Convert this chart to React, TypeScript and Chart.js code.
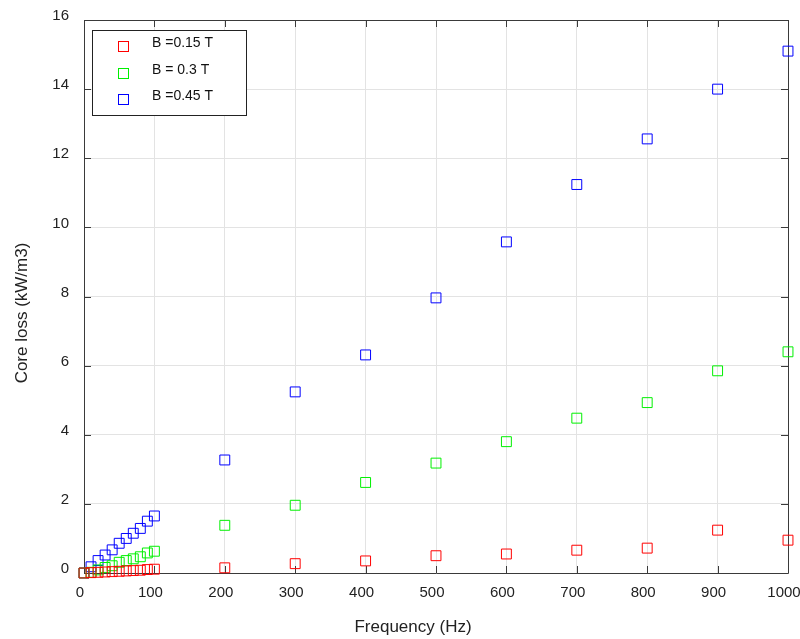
import React, { useEffect, useRef } from "react";
import { Chart, registerables } from "chart.js";

Chart.register(...registerables);

const frequencies = [0, 10, 20, 30, 40, 50, 60, 70, 80, 90, 100, 200, 300, 400, 500, 600, 700, 800, 900, 1000];
const loss015 = [0, 0.01, 0.02, 0.03, 0.04, 0.05, 0.06, 0.07, 0.08, 0.1, 0.11, 0.15, 0.27, 0.35, 0.5, 0.55, 0.66, 0.72, 1.24, 0.95];
const loss03 = [0, 0.02, 0.09, 0.16, 0.21, 0.31, 0.36, 0.41, 0.47, 0.58, 0.63, 1.38, 1.96, 2.62, 3.18, 3.8, 4.48, 4.93, 5.85, 6.4];
const loss045 = [0, 0.18, 0.36, 0.52, 0.67, 0.86, 1.0, 1.15, 1.29, 1.5, 1.65, 3.27, 5.24, 6.31, 7.96, 9.58, 11.24, 12.56, 14.0, 15.1];

const seriesLabels = ["B =0.15 T", "B = 0.3 T", "B =0.45 T"];
const seriesColors = ["#ff0000", "#00f000", "#0000ff"];
const xTitle = "Frequency (Hz)";
const yTitle = "Core loss (kW/m3)";

const FONT = "'Liberation Sans', Arial, Helvetica, sans-serif";

const framePlugin = {
  id: "matlabFrame",
  beforeDatasetsDraw(chart: any) {
    const { ctx, chartArea } = chart;
    const { left, right, top, bottom } = chartArea;
    const xs = chart.scales.x;
    const ys = chart.scales.y;
    ctx.save();
    ctx.strokeStyle = "#3a3a3a";
    ctx.lineWidth = 1;
    ctx.beginPath();
    ctx.rect(Math.round(left) + 0.5, Math.round(top) + 0.5, Math.round(right - left), Math.round(bottom - top));
    ctx.stroke();
    const tl = 7;
    ctx.beginPath();
    xs.ticks.forEach((t: any) => {
      const px = Math.round(xs.getPixelForValue(t.value)) + 0.5;
      ctx.moveTo(px, bottom);
      ctx.lineTo(px, bottom - tl);
      ctx.moveTo(px, top);
      ctx.lineTo(px, top + tl);
    });
    ys.ticks.forEach((t: any) => {
      const py = Math.round(ys.getPixelForValue(t.value)) + 0.5;
      ctx.moveTo(left, py);
      ctx.lineTo(left + tl, py);
      ctx.moveTo(right, py);
      ctx.lineTo(right - tl, py);
    });
    ctx.stroke();
    ctx.restore();
  },
  afterDraw(chart: any) {
    const { ctx } = chart;
    ctx.save();
    ctx.fillStyle = "#222";
    ctx.font = `17px ${FONT}`;
    ctx.textAlign = "center";
    ctx.textBaseline = "middle";
    ctx.fillText(xTitle, 413, 627);
    ctx.translate(22, 313);
    ctx.rotate(-Math.PI / 2);
    ctx.fillText(yTitle, 0, 0);
    ctx.restore();

    ctx.save();
    ctx.fillStyle = "#ffffff";
    ctx.fillRect(92, 30, 155, 86);
    ctx.strokeStyle = "#222";
    ctx.lineWidth = 1;
    ctx.strokeRect(92.5, 30.5, 154, 85);
    const rows = [45.7, 72.5, 99];
    ctx.font = `14px ${FONT}`;
    ctx.textAlign = "left";
    ctx.textBaseline = "middle";
    rows.forEach((ry, i) => {
      ctx.strokeStyle = seriesColors[i];
      ctx.strokeRect(Math.round(123 - 5) + 0.5, Math.round(ry - 5) + 0.5, 10, 10);
      ctx.fillStyle = "#111";
      ctx.fillText(seriesLabels[i], 152, ry - 2.5);
    });
    ctx.restore();
  },
};

export default function App() {
  const canvasRef = useRef<HTMLCanvasElement | null>(null);

  useEffect(() => {
    if (!canvasRef.current) return;
    const mk = (vals: number[]) => frequencies.map((f, i) => ({ x: f, y: vals[i] }));
    const allSeries = [loss015, loss03, loss045];
    const chart = new Chart(canvasRef.current, {
      type: "scatter",
      data: {
        datasets: allSeries.map((vals, i) => ({
          label: seriesLabels[i],
          data: mk(vals),
          pointStyle: "rect",
          pointRadius: 7,
          pointHoverRadius: 7,
          borderColor: seriesColors[i],
          backgroundColor: "rgba(0,0,0,0)",
          borderWidth: 1,
          clip: false,
        })),
      },
      options: {
        responsive: false,
        animation: false,
        events: [],
        layout: { padding: { top: 20, right: 12, left: 0, bottom: 0 } },
        plugins: {
          legend: { display: false },
          tooltip: { enabled: false },
          title: { display: false },
        },
        scales: {
          x: {
            type: "linear",
            min: 0,
            max: 1000,
            border: { display: false },
            grid: { color: "#e3e3e3", drawTicks: false, lineWidth: 1 },
            ticks: {
              stepSize: 100,
              padding: 11,
              labelOffset: -4,
              maxRotation: 0,
              color: "#222",
              font: { family: FONT, size: 15 },
              callback: (v: any) => String(v),
            },
            afterFit(scale: any) {
              scale.height = 66;
              scale.paddingLeft = 0;
              scale.paddingRight = 0;
            },
          },
          y: {
            type: "linear",
            min: 0,
            max: 16,
            border: { display: false },
            grid: { color: "#e3e3e3", drawTicks: false, lineWidth: 1 },
            ticks: {
              stepSize: 2,
              padding: 15,
              labelOffset: -4,
              color: "#222",
              font: { family: FONT, size: 15 },
              callback: (v: any) => String(v),
            },
            afterFit(scale: any) {
              scale.width = 84;
              scale.paddingTop = 0;
              scale.paddingBottom = 0;
            },
          },
        },
      },
      plugins: [framePlugin],
    });
    return () => chart.destroy();
  }, []);

  return (
    <div style={{ position: "absolute", left: 0, top: 0, width: 800, height: 639, background: "#fff" }}>
      <canvas ref={canvasRef} width={800} height={639} style={{ display: "block" }} />
    </div>
  );
}
